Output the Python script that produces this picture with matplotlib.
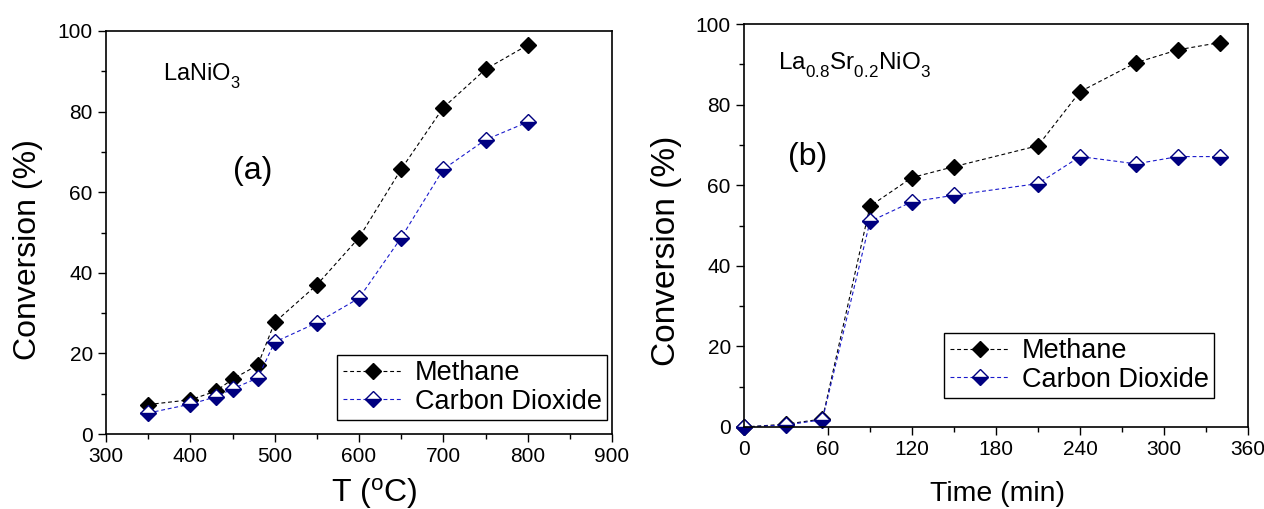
import matplotlib
matplotlib.use("Agg")
import matplotlib.pyplot as plt
from matplotlib.ticker import MultipleLocator

try:
    import matplotlib._mathtext as _mt
    _mt.FontConstantsBase.sub1 = 0.65
except Exception:
    pass

plt.rcParams['font.family'] = ['Liberation Sans', 'DejaVu Sans']
plt.rcParams['mathtext.fontset'] = 'custom'
plt.rcParams['mathtext.rm'] = 'Liberation Sans'
plt.rcParams['mathtext.it'] = 'Liberation Sans:italic'
plt.rcParams['mathtext.bf'] = 'Liberation Sans:bold'
plt.rcParams['mathtext.default'] = 'regular'

# Panel (a): conversion vs temperature
temp_a = [350, 400, 430, 450, 480, 500, 550, 600, 650, 700, 750, 800]
methane_a = [7.3, 8.5, 10.6, 13.6, 17.1, 27.7, 37.0, 48.7, 65.7, 81.0, 90.5, 96.5]
co2_a = [5.2, 7.4, 9.2, 11.2, 13.9, 22.8, 27.6, 33.7, 48.7, 65.7, 73.0, 77.4]

# Panel (b): conversion vs time
time_b = [0, 30, 56, 90, 120, 150, 210, 240, 280, 310, 340]
methane_b = [0, 0.7, 2.0, 54.8, 61.9, 64.6, 69.8, 83.2, 90.4, 93.6, 95.4]
co2_b = [0, 0.5, 1.8, 51.0, 55.9, 57.5, 60.4, 67.1, 65.3, 67.1, 67.1]

W, H = 1264, 509
fig = plt.figure(figsize=(W / 100, H / 100), dpi=100)

def px_axes(x0, y0, x1, y1):
    return fig.add_axes([x0 / W, 1 - y1 / H, (x1 - x0) / W, (y1 - y0) / H])

ax1 = px_axes(106, 31, 612, 434)
ax2 = px_axes(744, 24, 1248, 427)

dash = (0, (3.5, 2.5))

def draw(ax, x, m, c):
    ax.plot(x, m, linestyle=dash, color='black', lw=0.8, marker='D', ms=8.5,
            mfc='black', mec='black', label='Methane', clip_on=False)
    ax.plot(x, c, linestyle=dash, color='#1a1acc', lw=0.8, marker='D', ms=8.5,
            fillstyle='bottom', mfc='#000080', mfcalt='white', mec='#000080',
            mew=1.0, label='Carbon Dioxide', clip_on=False)

draw(ax1, temp_a, methane_a, co2_a)
draw(ax2, time_b, methane_b, co2_b)

for ax in (ax1, ax2):
    ax.set_ylim(0, 100)
    ax.yaxis.set_major_locator(MultipleLocator(20))
    ax.yaxis.set_minor_locator(MultipleLocator(10))
    ax.tick_params(which='both', direction='out', top=False, right=False)
    ax.tick_params(which='major', length=6, width=1, labelsize=15)
    ax.tick_params(which='minor', length=3.5, width=1)
    for s in ax.spines.values():
        s.set_linewidth(1.2)

ax1.set_xlim(300, 900)
ax1.xaxis.set_major_locator(MultipleLocator(100))
ax1.xaxis.set_minor_locator(MultipleLocator(50))
xl = ax1.set_xlabel(r'T ($^{\mathrm{o}}$C)', fontsize=23)
xl.set_va('center')
ax1.xaxis.set_label_coords((374 - 106) / 506, (434 - 493) / 403)
yl = ax1.set_ylabel('Conversion (%)', fontsize=23)
yl.set_va('center')
ax1.yaxis.set_label_coords((28 - 106) / 506, (434 - 250) / 403)

ax2.set_xlim(0, 360)
ax2.xaxis.set_major_locator(MultipleLocator(60))
ax2.xaxis.set_minor_locator(MultipleLocator(30))
xl2 = ax2.set_xlabel('Time (min)', fontsize=20.5)
xl2.set_va('center')
ax2.xaxis.set_label_coords((997 - 744) / 504, (427 - 494) / 403)
yl2 = ax2.set_ylabel('Conversion (%)', fontsize=24)
yl2.set_va('center')
ax2.yaxis.set_label_coords((667 - 744) / 504, (427 - 251) / 403)

ax1.text(368, 87.8, r'LaNiO$_3$', fontsize=17, va='baseline', ha='left')
ax1.text(474, 65.3, '(a)', fontsize=23, va='center', ha='center')
ax2.text(24.5, 88.8, r'La$_{0.8}$Sr$_{0.2}$NiO$_3$', fontsize=17.5, va='baseline', ha='left')
ax2.text(45.8, 67, '(b)', fontsize=23, va='center', ha='center')

def legend(ax, x1, y1):
    leg = ax.legend(loc='lower right', bbox_to_anchor=(x1 / W, 1 - y1 / H),
                    bbox_transform=fig.transFigure, borderaxespad=0,
                    fontsize=19.5, handlelength=2.2, handletextpad=0.45,
                    labelspacing=0.08, borderpad=0.2, fancybox=False,
                    framealpha=1, edgecolor='black')
    leg.get_frame().set_linewidth(1.0)

legend(ax1, 607, 420)
legend(ax2, 1214, 398)

fig.savefig('out.png', dpi=100)
